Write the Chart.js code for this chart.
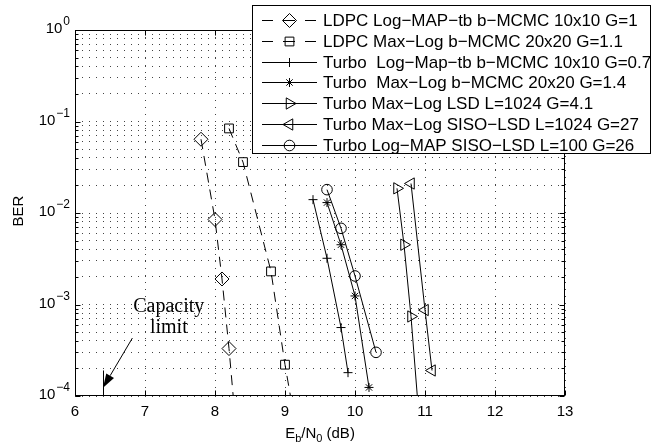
<!DOCTYPE html>
<html lang="en">
<head>
  <meta charset="UTF-8">
  <title>BER vs Eb/N0</title>
  <script src="https://cdn.jsdelivr.net/npm/chart.js"></script>
  <style>
    body {
      margin: 0;
      padding: 0;
      background: #fff;
    }
    .chart-box {
      position: relative;
      width: 664px;
      height: 446px;
    }
  </style>
</head>
<body>
  <div class="chart-box">
    <canvas id="ber" width="664" height="446"></canvas>
  </div>

  <script>
    // axis ticks
    const xTicks = [6, 7, 8, 9, 10, 11, 12, 13];
    const yDecades = [-4, -3, -2, -1, 0];

    // series (Eb/N0 in dB, BER)
    const ldpcLogMapX = [7.8, 8.0, 8.1, 8.2, 8.3];
    const ldpcLogMapBer = [0.064, 0.0085, 0.0019, 3.3e-4, 4.5e-5];

    const ldpcMaxLogX = [8.2, 8.4, 8.8, 9.0, 9.1];
    const ldpcMaxLogBer = [0.084, 0.036, 2.3e-3, 2.2e-4, 8e-5];

    const turboLogMapTbX = [9.4, 9.6, 9.8, 9.9];
    const turboLogMapTbBer = [0.014, 3.2e-3, 5.6e-4, 1.8e-4];

    const turboMaxLogMcmcX = [9.6, 9.8, 10.0, 10.2];
    const turboMaxLogMcmcBer = [0.013, 4.5e-3, 1.24e-3, 1.24e-4];

    const turboLsdX = [10.6, 10.7, 10.8, 10.9];
    const turboLsdBer = [0.0186, 4.5e-3, 7.4e-4, 8e-5];

    const turboSisoLsdX = [10.8, 11.0, 11.1];
    const turboSisoLsdBer = [0.021, 8.7e-4, 1.9e-4];

    const turboLogMapSisoX = [9.6, 9.8, 10.0, 10.3];
    const turboLogMapSisoBer = [0.018, 6.8e-3, 2.05e-3, 3.0e-4];

    const seriesLabels = [
      'LDPC Log\u2212MAP\u2212tb b\u2212MCMC 10x10 G=1',
      'LDPC Max\u2212Log b\u2212MCMC 20x20 G=1.1',
      'Turbo  Log\u2212Map\u2212tb b\u2212MCMC 10x10 G=0.7',
      'Turbo  Max\u2212Log b\u2212MCMC 20x20 G=1.4',
      'Turbo Max\u2212Log LSD L=1024 G=4.1',
      'Turbo Max\u2212Log SISO\u2212LSD L=1024 G=27',
      'Turbo Log\u2212MAP SISO\u2212LSD L=100 G=26'
    ];

    // capacity limit annotation (dB, BER)
    const capacityDb = 6.4;
    const capacityLineTop = 1.9e-4;
    const arrowFrom = [6.82, 4.3e-4];
    const arrowTo = [6.4, 1.23e-4];
    const capacityText = [[7.34, 8.28e-4, 'Capacity'], [7.34, 4.88e-4, 'limit']];

    function pts(xs, ys) {
      return xs.map((x, i) => ({ x: x, y: ys[i] }));
    }

    function series(label, xs, ys, style, radius, rotation, dashed) {
      return {
        label: label,
        data: pts(xs, ys),
        borderColor: '#000',
        borderWidth: 1,
        borderDash: dashed ? [10, 7] : [],
        pointStyle: style,
        pointRadius: radius,
        pointRotation: rotation,
        pointBorderColor: '#000',
        pointBackgroundColor: 'rgba(0,0,0,0)',
        pointBorderWidth: 1,
        tension: 0,
        clip: 0
      };
    }

    const datasets = [
      series(seriesLabels[0], ldpcLogMapX, ldpcLogMapBer, 'rectRot', 7, 0, true),
      series(seriesLabels[1], ldpcMaxLogX, ldpcMaxLogBer, 'rect', 6.2, 0, true),
      series(seriesLabels[2], turboLogMapTbX, turboLogMapTbBer, 'cross', 4.5, 0, false),
      series(seriesLabels[3], turboMaxLogMcmcX, turboMaxLogMcmcBer, 'star', 4.5, 0, false),
      series(seriesLabels[4], turboLsdX, turboLsdBer, 'triangle', 6.5, 90, false),
      series(seriesLabels[5], turboSisoLsdX, turboSisoLsdBer, 'triangle', 6.5, 270, false),
      series(seriesLabels[6], turboLogMapSisoX, turboLogMapSisoBer, 'circle', 5.3, 0, false)
    ];

    const SANS = '"Liberation Sans", Arial, sans-serif';
    const SERIF = '"Liberation Serif", "Times New Roman", serif';

    function marker(ctx, ds, x, y) {
      const opts = { pointStyle: ds.pointStyle, rotation: ds.pointRotation, radius: ds.pointRadius, borderWidth: 1 };
      ctx.save();
      ctx.setLineDash([]);
      ctx.strokeStyle = '#000';
      ctx.fillStyle = 'rgba(0,0,0,0)';
      ctx.lineWidth = 1;
      Chart.helpers.drawPoint(ctx, opts, x, y);
      ctx.restore();
    }

    const overlay = {
      id: 'overlay',
      afterDraw(chart) {
        const ctx = chart.ctx;
        const a = chart.chartArea;
        const xs = chart.scales.x;
        const ys = chart.scales.y;
        const L = Math.round(a.left) + 0.5, R = Math.round(a.right) - 0.5;
        const T = Math.round(a.top) + 0.5, B = Math.round(a.bottom) - 0.5;
        ctx.save();
        ctx.strokeStyle = '#000';
        ctx.fillStyle = '#000';
        ctx.lineWidth = 1;
        ctx.setLineDash([]);

        // plot frame
        ctx.strokeRect(L, T, R - L, B - T);

        // inward ticks
        ctx.beginPath();
        xTicks.forEach(v => {
          const px = Math.round(xs.getPixelForValue(v)) + 0.5;
          ctx.moveTo(px, B); ctx.lineTo(px, B - 5);
          ctx.moveTo(px, T); ctx.lineTo(px, T + 5);
        });
        ys.ticks.forEach(t => {
          const py = Math.round(ys.getPixelForValue(t.value)) + 0.5;
          const m = t.value / Math.pow(10, Math.floor(Math.log10(t.value) + 1e-9));
          const len = Math.abs(m - 1) < 1e-6 ? 5 : 3;
          ctx.moveTo(L, py); ctx.lineTo(L + len, py);
          ctx.moveTo(R, py); ctx.lineTo(R - len, py);
        });
        ctx.stroke();

        // x tick labels
        ctx.font = '15px ' + SANS;
        ctx.textAlign = 'center';
        ctx.textBaseline = 'middle';
        xTicks.forEach(v => ctx.fillText(String(v), xs.getPixelForValue(v), a.bottom + 16));

        // y tick labels 10^d
        yDecades.forEach(d => {
          const py = ys.getPixelForValue(Math.pow(10, d));
          const exp = d === 0 ? '0' : '\u2212' + (-d);
          ctx.textBaseline = 'alphabetic';
          ctx.textAlign = 'right';
          ctx.font = '12px ' + SANS;
          const right = a.left - 5;
          const we = ctx.measureText(exp).width;
          ctx.fillText(exp, right, py - 5);
          ctx.font = '15px ' + SANS;
          ctx.fillText('10', right - we - 1, py + 3);
        });

        // axis titles
        ctx.textAlign = 'left';
        ctx.textBaseline = 'alphabetic';
        const parts = [['E', 15, 0], ['b', 11, 4], ['/N', 15, 0], ['0', 11, 4], [' (dB)', 15, 0]];
        let total = 0;
        parts.forEach(p => { ctx.font = p[1] + 'px ' + SANS; total += ctx.measureText(p[0]).width; });
        let cx = (a.left + a.right) / 2 - total / 2;
        parts.forEach(p => {
          ctx.font = p[1] + 'px ' + SANS;
          ctx.fillText(p[0], cx, 438 + p[2]);
          cx += ctx.measureText(p[0]).width;
        });
        ctx.save();
        ctx.translate(19, (a.top + a.bottom) / 2 - 2);
        ctx.rotate(-Math.PI / 2);
        ctx.font = '15px ' + SANS;
        ctx.textAlign = 'center';
        ctx.textBaseline = 'middle';
        ctx.fillText('BER', 0, 0);
        ctx.restore();

        // capacity limit
        const cxp = Math.round(xs.getPixelForValue(capacityDb)) + 0.5;
        ctx.beginPath();
        ctx.moveTo(cxp, B);
        ctx.lineTo(cxp, ys.getPixelForValue(capacityLineTop));
        ctx.stroke();
        const x0 = xs.getPixelForValue(arrowFrom[0]), y0 = ys.getPixelForValue(arrowFrom[1]);
        const x1 = xs.getPixelForValue(arrowTo[0]), y1 = ys.getPixelForValue(arrowTo[1]);
        const ang = Math.atan2(y1 - y0, x1 - x0);
        const hl = 14, hw = 4.5;
        const bx = x1 - hl * Math.cos(ang), by = y1 - hl * Math.sin(ang);
        ctx.beginPath();
        ctx.moveTo(x0, y0); ctx.lineTo(bx, by);
        ctx.stroke();
        ctx.beginPath();
        ctx.moveTo(x1, y1);
        ctx.lineTo(bx + hw * Math.sin(ang), by - hw * Math.cos(ang));
        ctx.lineTo(bx - hw * Math.sin(ang), by + hw * Math.cos(ang));
        ctx.closePath();
        ctx.fill();
        ctx.font = '20px ' + SERIF;
        ctx.textAlign = 'center';
        ctx.textBaseline = 'alphabetic';
        capacityText.forEach(t => ctx.fillText(t[2], xs.getPixelForValue(t[0]), ys.getPixelForValue(t[1])));

        // legend box
        ctx.fillStyle = '#fff';
        ctx.fillRect(252.5, 5.5, 398, 148);
        ctx.strokeRect(252.5, 5.5, 398, 148);
        ctx.fillStyle = '#000';
        ctx.font = '17px ' + SANS;
        ctx.textAlign = 'left';
        ctx.textBaseline = 'alphabetic';
        chart.data.datasets.forEach((ds, i) => {
          const ry = Math.round(20 + i * 20.83) + 0.5;
          ctx.save();
          ctx.setLineDash(ds.borderDash.length ? [11, 10, 12, 10] : []);
          ctx.beginPath();
          ctx.moveTo(262, ry); ctx.lineTo(317, ry);
          ctx.stroke();
          ctx.restore();
          marker(ctx, ds, 289.5, ry);
          ctx.fillText(ds.label, 323, 26 + i * 20.83);
        });
        ctx.restore();
      }
    };

    const grid = {
      color: '#444',
      lineWidth: 1,
      drawTicks: false
    };

    new Chart(document.getElementById('ber').getContext('2d'), {
      type: 'line',
      data: { datasets: datasets },
      options: {
        responsive: false,
        animation: false,
        events: [],
        layout: { padding: { left: 75, right: 99, top: 30, bottom: 50 } },
        plugins: {
          legend: { display: false },
          tooltip: { enabled: false }
        },
        scales: {
          x: {
            type: 'linear',
            min: 6,
            max: 13,
            afterBuildTicks: s => { s.ticks = xTicks.map(v => ({ value: v })); },
            ticks: { display: false },
            grid: grid,
            border: { display: false, dash: [1, 6] }
          },
          y: {
            type: 'logarithmic',
            min: 1e-4,
            max: 1,
            afterBuildTicks: s => {
              const t = [];
              yDecades.forEach(d => {
                for (let m = 1; m <= 9; m++) {
                  const v = m * Math.pow(10, d);
                  if (v <= 1 + 1e-12) t.push({ value: v });
                }
              });
              s.ticks = t;
            },
            ticks: { display: false },
            grid: grid,
            border: { display: false, dash: [1, 6] }
          }
        }
      },
      plugins: [overlay]
    });
  </script>
</body>
</html>
